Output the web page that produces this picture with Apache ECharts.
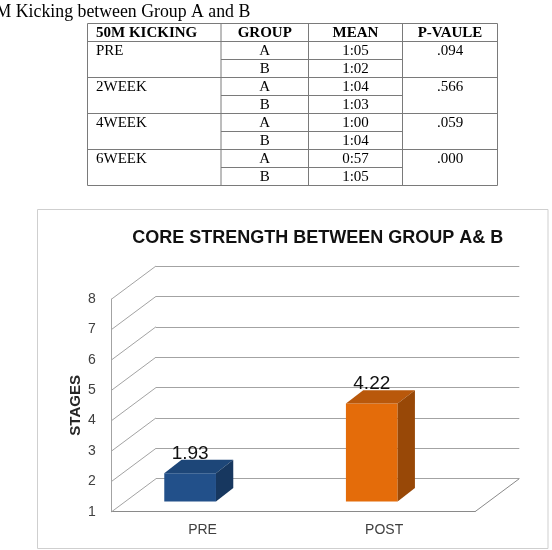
<!DOCTYPE html>
<html>
<head>
<meta charset="utf-8">
<script src="https://cdn.jsdelivr.net/npm/echarts@6/dist/echarts.min.js"></script>
<style>
html,body{margin:0;padding:0;background:#fff;}
#chart{width:552px;height:550px;}
</style>
</head>
<body>
<div id="chart"></div>
<script>
// ---------- data ----------
var captionText = 'M Kicking between Group A and B';
var tableHeader = ['50M KICKING', 'GROUP', 'MEAN', 'P-VAULE'];
var stages = ['PRE', '2WEEK', '4WEEK', '6WEEK'];
var groups = ['A', 'B'];
var means = [['1:05', '1:02'], ['1:04', '1:03'], ['1:00', '1:04'], ['0:57', '1:05']];
var pValues = ['.094', '.566', '.059', '.000'];

var chartTitle = 'CORE STRENGTH BETWEEN GROUP A& B';
var yAxisName = 'STAGES';
var categories = ['PRE', 'POST'];
var values = [1.93, 4.22];
var yTicks = [1, 2, 3, 4, 5, 6, 7, 8];

// ---------- layout / style ----------
var serif = '"Liberation Serif","Times New Roman",serif';
var sans = '"Liberation Sans",Arial,sans-serif';
var colX = [87.5, 221, 308.5, 402.5, 497.5];
var tableTop = 23.5, rowH = 18;
var lineCol = '#7a7a7a';

var FRONT = {left: 111.7, top: 299, width: 363.3, height: 212.7};
var DX = 44.3, DY = -33;
var gridCol = '#a3a3a3';
var barFaces = [
  {front: '#22508a', top: '#1d4678', side: '#17375f'},
  {front: '#e46c0a', top: '#b9580b', side: '#984807'}
];

var graphics = [];
// caption
graphics.push({type: 'text', left: -4.5, top: 3, style: {text: captionText, font: '17.8px ' + serif, fill: '#000'}});
// table lines
var nRows = 1 + stages.length * groups.length;
var tableBottom = tableTop + rowH * nRows;
function hline(x1, x2, y) { graphics.push({type: 'line', shape: {x1: x1, y1: y, x2: x2, y2: y}, style: {stroke: lineCol, lineWidth: 1}}); }
function vline(x, y1, y2) { graphics.push({type: 'line', shape: {x1: x, y1: y1, x2: x, y2: y2}, style: {stroke: lineCol, lineWidth: 1}}); }
colX.forEach(function (x) { vline(x, tableTop, tableBottom); });
hline(colX[0], colX[4], tableTop);
for (var r = 1; r <= nRows; r++) {
  var y = tableTop + rowH * r;
  var full = ((r - 1) % groups.length === 0);
  if (full) hline(colX[0], colX[4], y); else hline(colX[1], colX[3], y);
}
function cellText(txt, col, rowIdx, bold) {
  var cy = tableTop + rowH * rowIdx + rowH / 2 + 0.5;
  var left = col === 0;
  graphics.push({type: 'text', x: left ? colX[0] + 8.5 : (colX[col] + colX[col + 1]) / 2, y: cy,
    style: {text: txt, font: (bold ? 'bold ' : '') + '15px ' + serif, fill: '#000',
      textAlign: left ? 'left' : 'center', textVerticalAlign: 'middle'}});
}
tableHeader.forEach(function (h, c) { cellText(h, c, 0, true); });
stages.forEach(function (s, i) {
  var base = 1 + i * groups.length;
  cellText(s, 0, base, false);
  cellText(pValues[i], 3, base, false);
  groups.forEach(function (g, j) {
    cellText(g, 1, base + j, false);
    cellText(means[i][j], 2, base + j, false);
  });
});
// chart border
graphics.push({type: 'rect', shape: {x: 37.5, y: 209.5, width: 510.5, height: 339}, style: {fill: 'none', stroke: '#cfcfcf', lineWidth: 1}, z: -1});

var chart = echarts.init(document.getElementById('chart'), null, {renderer: 'canvas'});
chart.setOption({
  animation: false,
  backgroundColor: '#fff',
  title: {
    text: chartTitle, left: 317.8, top: 238, textAlign: 'center', textVerticalAlign: 'middle', padding: 0,
    textStyle: {fontFamily: sans, fontSize: 18, fontWeight: 'bold', color: '#111'}
  },
  graphic: graphics,
  grid: [
    {left: FRONT.left, top: FRONT.top, width: FRONT.width, height: FRONT.height, containLabel: false},
    {left: FRONT.left + DX, top: FRONT.top + DY, width: FRONT.width, height: FRONT.height, containLabel: false}
  ],
  xAxis: [
    {type: 'category', gridIndex: 0, data: categories,
      axisLine: {show: true, lineStyle: {color: '#8a8a8a', width: 1}}, axisTick: {show: false},
      axisLabel: {fontFamily: sans, fontSize: 14, color: '#404040', margin: 11}},
    {type: 'category', gridIndex: 1, data: categories, show: false}
  ],
  yAxis: [
    {type: 'value', gridIndex: 0, min: 1, max: 8, interval: 1,
      axisLine: {show: true, lineStyle: {color: gridCol}}, axisTick: {show: false}, splitLine: {show: false},
      axisLabel: {fontFamily: sans, fontSize: 14, color: '#404040', margin: 16},
      name: yAxisName, nameLocation: 'middle', nameGap: 28, nameRotate: 90, nameMoveOverlap: false,
      nameTextStyle: {fontFamily: sans, fontSize: 15, fontWeight: 'bold', color: '#262626'}},
    {type: 'value', gridIndex: 1, min: 1, max: 8, interval: 1,
      axisLine: {show: false}, axisTick: {show: false}, axisLabel: {show: false},
      splitLine: {show: true, lineStyle: {color: gridCol, width: 1}}}
  ],
  series: [
    {
      type: 'custom', xAxisIndex: 0, yAxisIndex: 0, silent: true,
      data: yTicks.map(function (v) { return [0, v]; }),
      renderItem: function (params, api) {
        var v = api.value(1);
        var p = api.coord([0, v]);
        var band = api.size([1, 0])[0];
        var xl = p[0] - band / 2;
        var ch = [{type: 'line', shape: {x1: xl, y1: p[1], x2: xl + DX, y2: p[1] + DY}, style: {stroke: gridCol, lineWidth: 1}}];
        if (params.dataIndex === 0) {
          var xr = api.coord([categories.length - 1, v])[0] + band / 2;
          ch.push({type: 'line', shape: {x1: xr, y1: p[1], x2: xr + DX, y2: p[1] + DY}, style: {stroke: '#8a8a8a', lineWidth: 1}});
        }
        return {type: 'group', children: ch};
      }
    },
    {
      type: 'custom', xAxisIndex: 0, yAxisIndex: 0, silent: true, z: 5,
      data: values.map(function (v, i) { return [i, v]; }),
      renderItem: function (params, api) {
        var i = api.value(0), v = api.value(1);
        var t = api.coord([i, v]);
        var b = api.coord([i, yTicks[0]]);
        var W = 51.7, SDX = 17.3, SDY = -13.3, SH = -10.3;
        var x0 = t[0] - 12.4 - W / 2;
        var yt = t[1] + SH, yb = b[1] + SH;
        var c = barFaces[i % barFaces.length];
        return {type: 'group', children: [
          {type: 'rect', shape: {x: x0, y: yt, width: W, height: yb - yt}, style: {fill: c.front}},
          {type: 'polygon', shape: {points: [[x0, yt], [x0 + W, yt], [x0 + W + SDX, yt + SDY], [x0 + SDX, yt + SDY]]}, style: {fill: c.top}},
          {type: 'polygon', shape: {points: [[x0 + W, yt], [x0 + W + SDX, yt + SDY], [x0 + W + SDX, yb + SDY], [x0 + W, yb]]}, style: {fill: c.side}},
          {type: 'text', x: x0 + W / 2, y: yt - 19.5, style: {text: String(v), font: '19px ' + sans, fill: '#111', textAlign: 'center', textVerticalAlign: 'middle'}}
        ]};
      }
    }
  ]
});
</script>
</body>
</html>
